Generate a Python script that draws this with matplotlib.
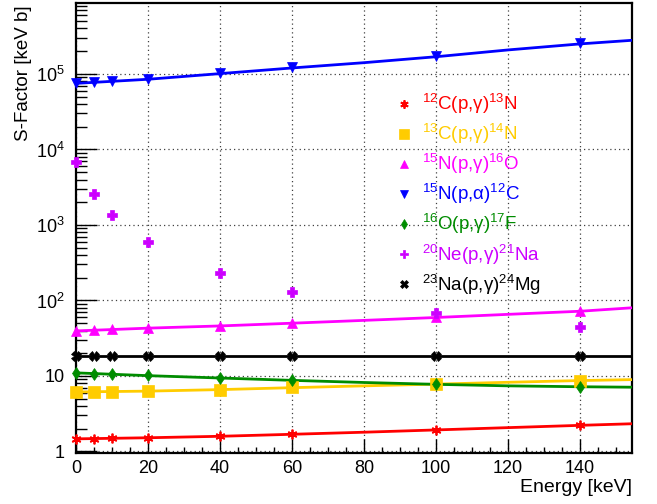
import matplotlib
matplotlib.use('Agg')
import matplotlib.pyplot as plt
from matplotlib.lines import Line2D
from matplotlib.ticker import LogLocator, MultipleLocator, NullFormatter, FixedLocator, FixedFormatter

plt.rcParams['font.family'] = ['Liberation Sans', 'DejaVu Sans']
plt.rcParams['mathtext.fontset'] = 'custom'
plt.rcParams['mathtext.rm'] = 'Liberation Sans'
plt.rcParams['mathtext.it'] = 'Liberation Sans:italic'
plt.rcParams['mathtext.bf'] = 'Liberation Sans:bold'

# Measured / tabulated S-factors [keV b] at the listed energies [keV]
energy = [0, 5, 10, 20, 40, 60, 100, 140]
s_c12 = [1.48, 1.48, 1.49, 1.52, 1.60, 1.72, 1.93, 2.24]
s_c13 = [6.2, 6.2, 6.2, 6.3, 6.6, 7.2, 7.8, 8.6]
s_n15_pg = [39.5, 40.7, 41.9, 43.0, 45.9, 49.9, 61.0, 73.0]
s_n15_pa = [75300, 79000, 81500, 86700, 103000, 123000, 173000, 260000]
s_o16 = [11.1, 10.7, 10.5, 10.2, 9.5, 8.8, 7.8, 7.2]
s_ne20 = [6770, 2600, 1360, 596, 229, 130, 69, 45]
s_na23 = [18.5, 18.5, 18.5, 18.5, 18.5, 18.5, 18.5, 18.5]

# Fitted curves evaluated on a coarse energy grid
fit_energy = [0, 20, 40, 60, 80, 100, 120, 140, 154.4]
fit_c12 = [1.47, 1.52, 1.59, 1.69, 1.80, 1.93, 2.07, 2.22, 2.33]
fit_c13 = [6.15, 6.3, 6.6, 7.0, 7.4, 7.8, 8.25, 8.7, 8.95]
fit_n15_pg = [39.5, 43.0, 46.0, 50.0, 54.5, 59.5, 65.5, 72.0, 80.0]
fit_n15_pa = [75000, 85000, 101000, 120000, 141000, 169000, 208000, 250000, 279000]
fit_o16 = [11.0, 10.1, 9.4, 8.75, 8.2, 7.75, 7.4, 7.2, 7.1]
fit_na23 = [18.5, 18.5, 18.5, 18.5, 18.5, 18.5, 18.5, 18.5, 18.5]

x_ticks = [0, 20, 40, 60, 80, 100, 120, 140]
x_tick_labels = ['0', '20', '40', '60', '80', '100', '120', '140']
y_ticks = [1, 10, 100, 1000, 10000, 100000]
y_tick_labels = ['1', '10', r'$10^{2}$', r'$10^{3}$', r'$10^{4}$', r'$10^{5}$']

asterisk = (6, 2, 0)
series = [
    (s_c12, fit_c12, '#ff0000', asterisk, 7, r'$^{12}$C(p,γ)$^{13}$N'),
    (s_c13, fit_c13, '#ffcc00', 's', 8, r'$^{13}$C(p,γ)$^{14}$N'),
    (s_n15_pg, fit_n15_pg, '#ff00ff', '^', 7, r'$^{15}$N(p,γ)$^{16}$O'),
    (s_n15_pa, fit_n15_pa, '#0000ff', 'v', 7, r'$^{15}$N(p,α)$^{12}$C'),
    (s_o16, fit_o16, '#008c00', 'd', 6, r'$^{16}$O(p,γ)$^{17}$F'),
    (s_ne20, None, '#cc00ff', 'P', 7, r'$^{20}$Ne(p,γ)$^{21}$Na'),
    (s_na23, fit_na23, '#000000', 'X', 6.5, r'$^{23}$Na(p,γ)$^{24}$Mg'),
]

fig = plt.figure(figsize=(6.57, 5.04), dpi=100)
ax = fig.add_axes([76 / 657, 1 - 453 / 504, (632 - 76) / 657, (453 - 3) / 504])
ax.set_yscale('log')
ax.set_xlim(0, 154.4)
ax.set_ylim(0.955, 8.7e5)

handles = []
for vals, fit, color, marker, ms, label in series:
    if fit is not None:
        ax.plot(fit_energy, fit, color=color, lw=2, zorder=3, solid_capstyle='butt')
    mew = 1.3 if marker == asterisk else 0.5
    ax.plot(energy, vals, ls='none', marker=marker, ms=ms, color=color,
            mec=color, mew=mew, zorder=4, clip_on=False)
    handles.append(Line2D([], [], ls='none', marker=marker, ms=ms - 1, color=color,
                          mec=color, mew=mew, label=label))

# axes styling
for side in ('top', 'right', 'left', 'bottom'):
    ax.spines[side].set_linewidth(1.6)
ax.tick_params(which='both', direction='in', top=False, right=False,
               labelsize=13, width=1)
ax.tick_params(axis='y', which='major', length=15, pad=8)
ax.tick_params(axis='y', which='minor', length=8)
ax.tick_params(axis='x', which='major', length=10, pad=5)
ax.tick_params(axis='x', which='minor', length=4.5)

ax.xaxis.set_major_locator(FixedLocator(x_ticks))
ax.xaxis.set_major_formatter(FixedFormatter(x_tick_labels))
ax.xaxis.set_minor_locator(MultipleLocator(5))
ax.yaxis.set_major_locator(FixedLocator(y_ticks))
ax.yaxis.set_major_formatter(FixedFormatter(y_tick_labels))
ax.yaxis.set_minor_locator(LogLocator(base=10, subs=range(2, 10), numticks=20))
ax.yaxis.set_minor_formatter(NullFormatter())

ax.grid(True, which='major', ls=(0, (1, 2.5)), color='0.25', lw=0.9, zorder=1)
ax.set_axisbelow(True)

fig.text(632 / 657, 1 - 487 / 504, 'Energy [keV]', ha='right', va='center', fontsize=14)
fig.text(24 / 657, 1 - 5 / 504, 'S-Factor [keV b]', ha='center', va='top',
         rotation=90, fontsize=13.5)

leg = ax.legend(handles=handles, loc='upper left',
                bbox_to_anchor=(395 / 657, 1 - 92 / 504), bbox_transform=fig.transFigure,
                frameon=False, fontsize=13.5, handlelength=1.0, handletextpad=0.45,
                labelspacing=0.32, borderpad=0, borderaxespad=0)
for txt, h in zip(leg.get_texts(), handles):
    txt.set_color(h.get_color())

fig.savefig('out.png', dpi=100)
